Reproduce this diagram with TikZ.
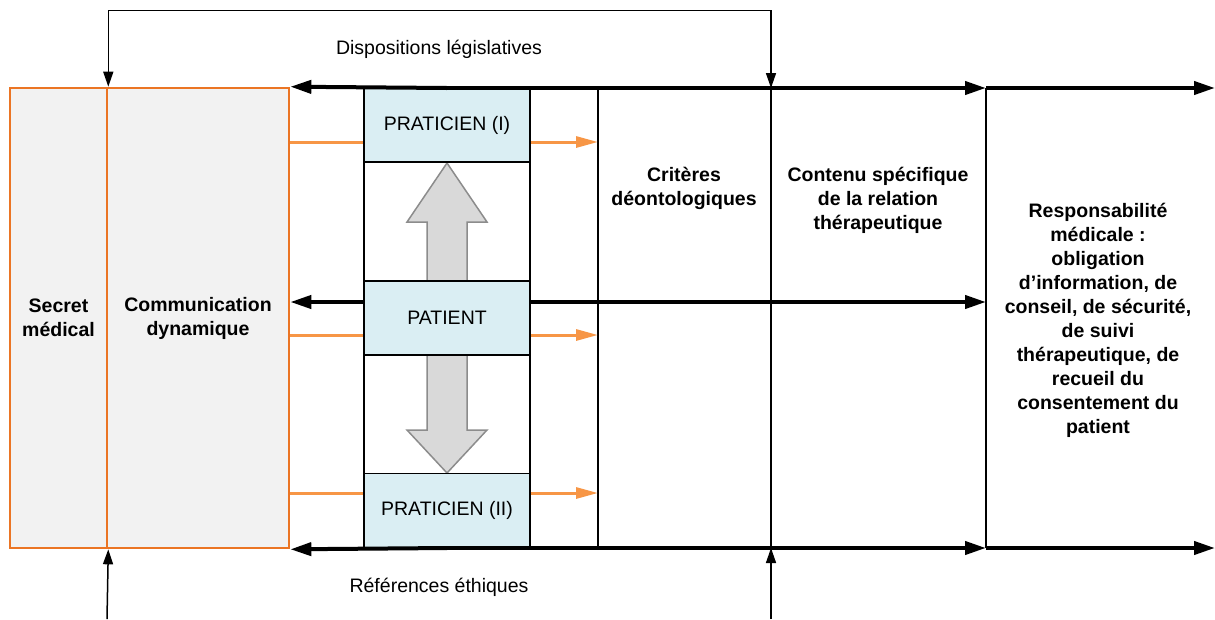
\documentclass[tikz,border=0pt]{standalone}
\usepackage{fontspec}
\setmainfont{Liberation Sans}
\usetikzlibrary{arrows.meta}
\definecolor{orgB}{HTML}{EB7524}
\definecolor{orgA}{HTML}{F79646}
\definecolor{boxfill}{HTML}{F2F2F2}
\definecolor{blueA}{HTML}{DAEEF3}
\definecolor{grayA}{HTML}{D9D9D9}
\definecolor{grayB}{HTML}{8C8C8C}
\begin{document}
\begin{tikzpicture}[x=1pt,y=-1pt,
  txt/.style={font=\fontsize{19.5}{24}\selectfont, align=center, inner sep=0pt},
  btxt/.style={font=\fontsize{19.5}{24}\selectfont\bfseries, align=center, inner sep=0pt},
  thickarr/.style={line width=4pt, -{Triangle[length=21pt,width=13pt]}},
  thinarr/.style={line width=1.5pt, -{Triangle[length=15pt,width=10pt]}},
  orgarr/.style={draw=orgA, line width=3pt, -{Triangle[length=22pt,width=11pt]}},
  orgline/.style={draw=orgA, line width=3pt},
  vline/.style={draw=black, line width=1.5pt},
  obox/.style={draw=orgB, fill=boxfill, line width=2.6pt, minimum height=460pt, inner sep=0pt, font=\fontsize{19.5}{24}\selectfont\bfseries, align=center},
  pbox/.style={draw=black, line width=1.5pt, fill=blueA, minimum width=166pt, minimum height=74pt, inner sep=0pt, font=\fontsize{19.5}{24}\selectfont}
]
\useasboundingbox (0,0) rectangle (1215,619);

% left orange boxes
\node[obox, minimum width=97pt] (secret) at (58.5,318) {Secret\\médical};
\node[obox, minimum width=182pt] (comm) at (198,318) {Communication\\dynamique};

% column
\node[draw=black, line width=1.5pt, minimum width=166pt, minimum height=460pt, inner sep=0pt] (col) at (447,318) {};

% gray double arrow
\filldraw[fill=grayA, draw=grayB, line width=1.5pt]
  (447,163) -- (407,222) -- (427,222) -- (427,430) -- (407,430) -- (447,473)
  -- (487,430) -- (467,430) -- (467,222) -- (487,222) -- cycle;

% blue boxes
\node[pbox] (prat1) at (447,125) {PRATICIEN (I)};
\node[pbox] (patient) at (447,318) {PATIENT};
\node[pbox] (prat2) at (447,510.5) {PRATICIEN (II)};

% coordinates
\coordinate (v1t) at (598,88);  \coordinate (v1b) at (598,548);
\coordinate (v2t) at (771,88);  \coordinate (v2b) at (771,548);
\coordinate (v3t) at (986,88);  \coordinate (v3b) at (986,548);
\coordinate (tm) at (447,88);   \coordinate (bm) at (447,548);
\coordinate (rt) at (1215,88);  \coordinate (rb) at (1215,548);
\coordinate (my) at (0,302);
\coordinate (ly) at (107,619);  \coordinate (ry) at (771,619);

% vertical lines
\draw[vline] (v1t) -- (v1b);
\draw[vline] (v2t) -- (v2b);
\draw[vline] (v3t) -- (v3b);

% thick arrows
\draw[thickarr] (tm) -- (comm.north east);
\draw[thickarr] (tm) -- (v3t);
\draw[thickarr] (v3t) -- (rt);
\draw[thickarr] (bm) -- (comm.south east);
\draw[thickarr] (bm) -- (v3b);
\draw[thickarr] (v3b) -- (rb);
\draw[thickarr] (patient.west |- my) -- (comm.east |- my);
\draw[thickarr] (patient.east |- my) -- (v3t |- my);

% orange connectors
\foreach \yy in {142, 335, 493}{
  \coordinate (oy) at (0,\yy);
  \draw[orgline] (comm.east |- oy) -- (col.west |- oy);
  \draw[orgarr] (col.east |- oy) -- (v1t |- oy);
}

% thin arrows from top and bottom
\draw[line width=1.5pt, {Triangle[length=15pt,width=10pt]}-{Triangle[length=15pt,width=10pt]}]
  (secret.north east) -- ++(0,-76) -| (v2t);
\draw[thinarr] (ly) -- (secret.south east);
\draw[thinarr] (ry) -- (v2b);

% labels
\node[txt] (disp) at (439,49) {Dispositions législatives};
\node[txt] (refe) at (439,587) {Références éthiques};
\node[btxt] (crit) at (684,188) {Critères\\déontologiques};
\node[btxt] (cont) at (878,200) {Contenu spécifique\\de la relation\\thérapeutique};
\node[btxt] (resp) at (1098,320) {Responsabilité\\médicale :\\obligation\\d’information, de\\conseil, de sécurité,\\de suivi\\thérapeutique, de\\recueil du\\consentement du\\patient};
\end{tikzpicture}
\end{document}
